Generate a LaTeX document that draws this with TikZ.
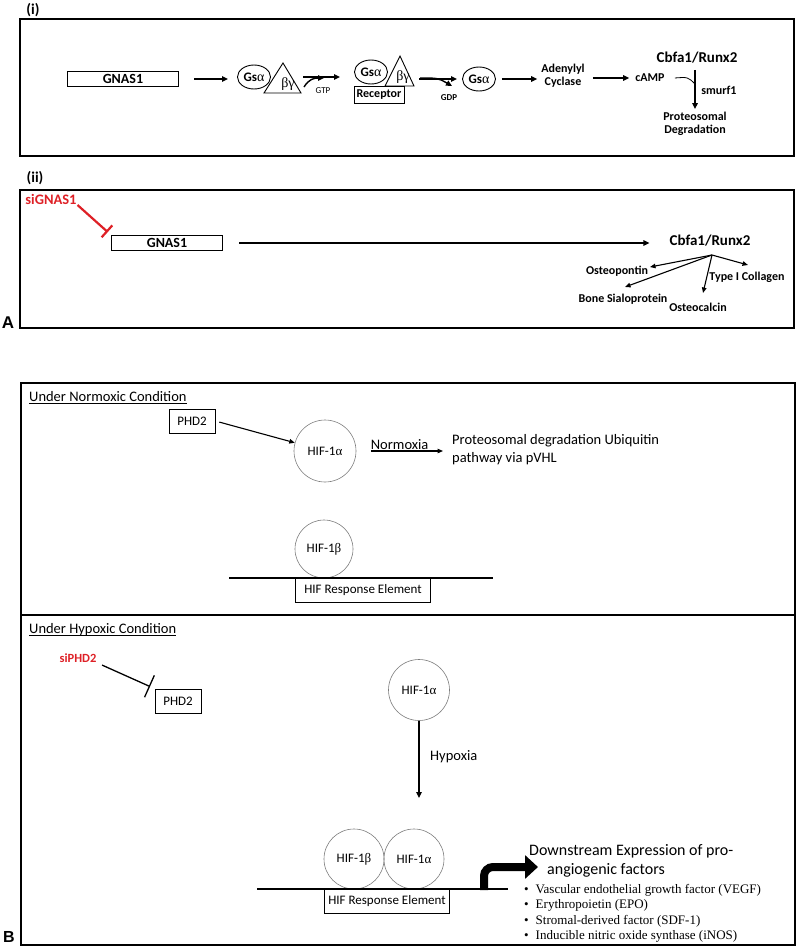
\documentclass[tikz,border=0pt]{standalone}
\usepackage{fontspec}
\setmainfont{Carlito}
\newfontfamily\grk{Liberation Serif}
\newfontfamily\panelf{Liberation Sans}
\usetikzlibrary{arrows.meta,shapes.geometric}
\definecolor{sired}{RGB}{222,32,38}
\definecolor{ringgray}{RGB}{125,125,125}

\tikzset{
  frame/.style={line width=2.5pt},
  pw/.style={line width=1.4pt,-{Triangle[length=6pt,width=5.5pt]}},
  thinarr/.style={line width=1.1pt,-{Triangle[length=5.5pt,width=4.5pt]}},
  genebox/.style={draw,line width=1.5pt,minimum width=111pt,minimum height=15pt,inner sep=0pt,font=\bfseries\fontsize{14}{14}\selectfont},
  gsell/.style={draw,ellipse,fill=white,line width=0.9pt,inner sep=0pt,minimum width=33pt,minimum height=24pt},
  bglbl/.style={inner sep=0pt,font=\grk\fontsize{14}{14}\selectfont},
  smallbf/.style={inner sep=0pt,align=center,font=\bfseries\fontsize{12}{13}\selectfont},
  bigbf/.style={inner sep=0pt,font=\bfseries\fontsize{15}{15}\selectfont},
  tinylbl/.style={inner sep=0pt,font=\fontsize{9}{9}\selectfont},
  hifcirc/.style={circle,draw=ringgray,line width=0.6pt,minimum size=60pt,inner sep=0pt,font=\fontsize{13}{13}\selectfont},
  plainbox/.style={draw,line width=0.8pt,inner sep=0pt,font=\fontsize{13}{13}\selectfont},
  bodytxt/.style={inner sep=0pt,font=\fontsize{14.5}{18}\selectfont},
  dna/.style={line width=2pt},
  inhred/.style={sired,line width=2.2pt,-{Bar[width=16pt,line width=2.2pt]}},
  inh/.style={line width=1.3pt,-{Bar[width=24pt,line width=1.3pt]}},
}

\begin{document}
\begin{tikzpicture}[x=1pt,y=-1pt]
\useasboundingbox (0,0) rectangle (798,948);

% ---- A (i)
\node[bigbf] (tagi) at (33,10) {(i)};
\draw[frame] (20,19) rectangle (794,156);
\node[genebox] (gnasA) at (123,79) {GNAS1};

\draw[line width=0.9pt] (264,93) -- (283,63) -- (301,93) -- cycle;
\coordinate (tri1R) at (301,93);
\node[bglbl] (bg1) at (288,84) {βγ};
\node[gsell] (gs1) at (254,77) {\textbf{\fontsize{13}{13}\selectfont Gs}{\grk\fontsize{14}{14}\selectfont α}};

\draw[line width=0.9pt] (385,86) -- (400,56) -- (414,86) -- cycle;
\coordinate (tri2R) at (414,86);
\node[bglbl] (bg2) at (403,77) {βγ};
\node[gsell] (gs2) at (371,72) {\textbf{\fontsize{13}{13}\selectfont Gs}{\grk\fontsize{14}{14}\selectfont α}};
\node[draw,fill=white,line width=0.9pt,minimum width=50pt,minimum height=17pt,inner sep=0pt,font=\bfseries\fontsize{12}{12}\selectfont] (rec) at (379,95) {Receptor};

\node[gsell] (gs3) at (479,79) {\textbf{\fontsize{13}{13}\selectfont Gs}{\grk\fontsize{14}{14}\selectfont α}};
\node[smallbf] (ac) at (563,76) {Adenylyl\\Cyclase};
\node[smallbf] (camp) at (650,78) {cAMP};
\node[bigbf] (cbfA) at (697,58) {Cbfa1/Runx2};
\node[smallbf] (deg) at (695,124) {Proteosomal\\Degradation};
\node[smallbf] (smurf) at (719,90) {smurf1};

\draw[pw,shorten <=15pt,shorten >=9pt] (gnasA.east) -- (gnasA.east -| gs1.west);
\draw[pw,shorten <=2pt,shorten >=14pt] (tri1R |- gs1.center) -- (gs2.west |- gs1.center);
\coordinate (gtpIn) at (304,87);
\draw[pw] (gtpIn) .. controls (309,79) and (314,78) .. (324,78);
\node[tinylbl] (gtp) at (323,91) {GTP};
\draw[pw,shorten <=5pt,shorten >=5pt] (tri2R |- gs3.center) -- (gs3.west);
\coordinate (gdpOut) at (452,86);
\draw[pw] (420,78) .. controls (438,78) .. (gdpOut);
\node[tinylbl,font=\bfseries\fontsize{9}{9}\selectfont] (gdp) at (449,98) {GDP};
\draw[pw,shorten <=6pt,shorten >=4pt] (gs3.east) -- (gs3.east -| ac.west);
\draw[pw,shorten <=8pt,shorten >=6pt] (ac.east |- camp) -- (camp.west);
\coordinate (smj) at (695,84);
\draw[line width=0.8pt] ([xshift=10pt]camp.east) .. controls (688,77) .. (smj);
\draw[pw,shorten <=6pt,shorten >=3pt] (smj |- cbfA.south) -- (smj |- deg.north);

% ---- A (ii)
\node[bigbf] (tagii) at (35,178) {(ii)};
\draw[frame] (20,190) rectangle (794,328);
\node[bigbf,text=sired,font=\bfseries\fontsize{14.5}{15}\selectfont] (sig) at (51,199) {siGNAS1};
\node[genebox] (gnasB) at (167,243) {GNAS1};
\draw[inhred,shorten <=1pt,shorten >=4pt] (sig.south east) -- (gnasB.north west);
\node[bigbf] (cbfB) at (710,241) {Cbfa1/Runx2};
\draw[pw,shorten <=16pt,shorten >=20pt] (gnasB.east) -- (gnasB.east -| cbfB.west);

\coordinate (fan) at (712,255);
\node[smallbf] (opn) at (617,271) {Osteopontin};
\node[smallbf] (bsp) at (623,299) {Bone Sialoprotein};
\node[smallbf] (ocn) at (698,307) {Osteocalcin};
\node[smallbf] (col) at (747,277) {Type I Collagen};
\coordinate (opnTip) at (650,267);
\coordinate (bspTip) at (625,287);
\coordinate (ocnTip) at (703,293);
\coordinate (colTip) at (748,265);
\foreach \t in {opnTip,bspTip,ocnTip,colTip}
  \draw[thinarr] (fan) -- (\t);
\node[font=\panelf\bfseries\fontsize{17}{17}\selectfont,inner sep=0pt] (labA) at (8,323) {A};

% ---- B normoxic
\draw[frame] (21,383) rectangle (795,615);
\node[anchor=base west,inner sep=0pt,font=\fontsize{14.5}{15}\selectfont] (hdN) at (29,401) {Under Normoxic Condition};
\draw[line width=0.7pt] ([yshift=-2pt]hdN.base west) -- ([yshift=-2pt]hdN.base east);
\node[plainbox,minimum width=46pt,minimum height=24pt] (phdN) at (192,421) {PHD2};
\node[hifcirc,minimum size=62pt] (hifaN) at (325,451) {HIF-1{\grk α}};
\draw[thinarr,shorten <=4pt] (phdN.east) -- (hifaN);
\coordinate (nrmEnd) at (443,451);
\draw[thinarr,shorten <=15pt] (hifaN.east) -- (nrmEnd) node[midway,above=1pt,inner sep=0pt,font=\fontsize{14.5}{15}\selectfont] (nrmLbl) {Normoxia};
\node[bodytxt,anchor=north west,align=left] (pvhl) at (452,434) {Proteosomal degradation Ubiquitin\\pathway via pVHL};
\node[hifcirc,minimum size=58pt] (hifbN) at (324,549) {HIF-1{\grk β}};
\coordinate (dnaNl) at (229,578);
\coordinate (dnaNr) at (493,578);
\draw[dna] (dnaNl) -- (dnaNr);
\node[plainbox,anchor=north,minimum width=135pt,minimum height=24pt] (hreN) at (363,578) {HIF Response Element};

% ---- B hypoxic
\draw[frame] (21,615) rectangle (795,945);
\node[anchor=base west,inner sep=0pt,font=\fontsize{14.5}{15}\selectfont] (hdH) at (29,633) {Under Hypoxic Condition};
\draw[line width=0.7pt] ([yshift=-2pt]hdH.base west) -- ([yshift=-2pt]hdH.base east);
\node[inner sep=0pt,text=sired,font=\bfseries\fontsize{12.5}{13}\selectfont] (siphd) at (78,658) {siPHD2};
\node[plainbox,minimum width=46pt,minimum height=24pt] (phdH) at (178,701) {PHD2};
\draw[inh,shorten <=6pt,shorten >=5pt] (siphd.south east) -- (phdH.north west);
\node[hifcirc,minimum size=61pt] (hifaH) at (419,690) {HIF-1{\grk α}};
\coordinate (hypEnd) at (419,798);
\draw[pw,line width=1.2pt] (hifaH.south) -- (hypEnd);
\node[inner sep=0pt,anchor=west,font=\fontsize{14.5}{15}\selectfont] (hypLbl) at (430,757) {Hypoxia};

\node[hifcirc] (hifbH) at (354,859) {HIF-1{\grk β}};
\node[hifcirc] (hifa2) at (414,859) {HIF-1{\grk α}};
\coordinate (dnaHl) at (257,889);
\coordinate (dnaHr) at (508,889);
\draw[dna] (dnaHl) -- (dnaHr);
\node[plainbox,anchor=north,minimum width=125pt,minimum height=24pt] (hreH) at (387,889) {HIF Response Element};

\coordinate (tss) at (484,890);
\coordinate (dsTip) at (538,867);
\draw[line width=8pt,rounded corners=9pt,-{Triangle[length=13pt,width=23pt]}] (tss) -- (tss |- dsTip) -- (dsTip);
\node[anchor=base west,inner sep=0pt,font=\fontsize{16}{16}\selectfont] (ds1) at (529,855) {Downstream Expression of pro-};
\node[anchor=base west,inner sep=0pt,font=\fontsize{16}{16}\selectfont] (ds2) at (547,874) {angiogenic factors};
\node[anchor=north west,align=left,inner sep=0pt,font=\grk\fontsize{13}{15.4}\selectfont] (facts) at (524,884)
  {\textbullet\hspace{7pt}Vascular endothelial growth factor (VEGF)\\
   \textbullet\hspace{7pt}Erythropoietin (EPO)\\
   \textbullet\hspace{7pt}Stromal-derived factor (SDF-1)\\
   \textbullet\hspace{7pt}Inducible nitric oxide synthase (iNOS)};
\node[font=\panelf\bfseries\fontsize{16}{16}\selectfont,inner sep=0pt] (labB) at (9,937) {B};
\end{tikzpicture}
\end{document}
